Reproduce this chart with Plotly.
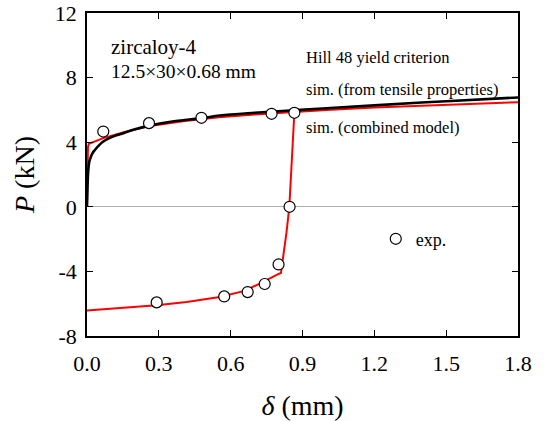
import plotly.graph_objects as go

# experimental points
exp_x = [0.068, 0.259, 0.478, 0.771, 0.866, 0.846, 0.800, 0.742, 0.671, 0.573, 0.291]
exp_y = [4.66, 5.18, 5.51, 5.76, 5.82, 0.0, -3.57, -4.78, -5.28, -5.55, -5.92]

# simulation from tensile properties (black)
tens_x = [0, 0.002, 0.005, 0.009, 0.014, 0.022, 0.033, 0.050, 0.068, 0.10, 0.152, 0.20, 0.256,
          0.35, 0.479, 0.555, 0.70, 0.848, 1.0, 1.2, 1.5, 1.8]
tens_y = [0, 1.2, 2.2, 2.75, 3.0, 3.3, 3.52, 3.8, 4.04, 4.3, 4.56, 4.8, 5.01,
          5.27, 5.49, 5.65, 5.82, 5.96, 6.1, 6.28, 6.54, 6.77]

# combined model, forward branch (red)
comb_fx = [0, 0.004, 0.008, 0.02, 0.068, 0.15, 0.256, 0.40, 0.55, 0.70, 0.848, 1.0, 1.2, 1.5, 1.8]
comb_fy = [0, 3.7, 3.9, 3.97, 4.25, 4.6, 4.98, 5.3, 5.55, 5.72, 5.88, 6.0, 6.15, 6.33, 6.48]

# combined model, reverse branch (red)
comb_rx = [0.866, 0.856, 0.845, 0.833, 0.823, 0.815, 0.810, 0.792, 0.722, 0.653, 0.555, 0.416, 0.291, 0.138, 0.0]
comb_ry = [5.82, 3.0, 0.0, -1.6, -2.69, -3.6, -4.1, -4.22, -4.76, -5.22, -5.59, -5.9, -6.1, -6.27, -6.42]

x_ticks = [0.0, 0.3, 0.6, 0.9, 1.2, 1.5, 1.8]
y_ticks = [-8, -4, 0, 4, 8, 12]

FONT = "Liberation Serif"

fig = go.Figure()
fig.add_trace(go.Scatter(x=comb_fx, y=comb_fy, mode="lines",
                         line=dict(color="#ff0000", width=2), showlegend=False))
fig.add_trace(go.Scatter(x=comb_rx, y=comb_ry, mode="lines",
                         line=dict(color="#ff0000", width=2), showlegend=False))
fig.add_trace(go.Scatter(x=tens_x, y=tens_y, mode="lines",
                         line=dict(color="black", width=2.6, shape="spline"), showlegend=False))
fig.add_trace(go.Scatter(x=exp_x, y=exp_y, mode="markers", name="exp.",
                         marker=dict(symbol="circle", size=11, color="white",
                                     line=dict(color="black", width=1.2))))

axis_common = dict(showline=True, linecolor="black", linewidth=1.5, mirror="ticks",
                   ticks="inside", ticklen=6, tickwidth=1.2, tickcolor="black",
                   showgrid=False, automargin=False,
                   tickfont=dict(family=FONT, size=22, color="black"))

fig.update_xaxes(range=[0, 1.8], tickvals=x_ticks, ticktext=[f"{v:.1f}" for v in x_ticks],
                 zeroline=False, ticklabelstandoff=7,
                 title=dict(text="<i>δ</i> (mm)", font=dict(family=FONT, size=28, color="black"),
                            standoff=24),
                 **axis_common)
fig.update_yaxes(range=[-8, 12], tickvals=y_ticks, ticktext=[str(v) for v in y_ticks],
                 zeroline=True, zerolinecolor="#b0b0b0", zerolinewidth=1,
                 ticklabelstandoff=4,
                 title=dict(text="<i>P</i> (kN)", font=dict(family=FONT, size=28, color="black"),
                            standoff=12),
                 **axis_common)

ann = [
    ("zircaloy-4", 0.051, 0.895, 21),
    ("12.5×30×0.68 mm", 0.051, 0.820, 19.5),
    ("Hill 48 yield criterion", 0.503, 0.861, 16.5),
    ("sim. (from tensile properties)", 0.503, 0.762, 16.5),
    ("sim. (combined model)", 0.503, 0.644, 16.5),
]
for t, x, y, s in ann:
    fig.add_annotation(text=t, x=x, y=y, xref="paper", yref="paper", xanchor="left",
                       yanchor="middle", showarrow=False,
                       font=dict(family=FONT, size=s, color="black"))

fig.update_layout(
    width=544, height=421,
    margin=dict(l=87, r=26, t=13, b=85),
    paper_bgcolor="white", plot_bgcolor="white",
    font=dict(family=FONT, color="black"),
    legend=dict(x=0.67, y=0.30, xanchor="left", yanchor="middle",
                bgcolor="rgba(0,0,0,0)", font=dict(family=FONT, size=18, color="black")),
    showlegend=True,
)

fig.write_html("out.html")
